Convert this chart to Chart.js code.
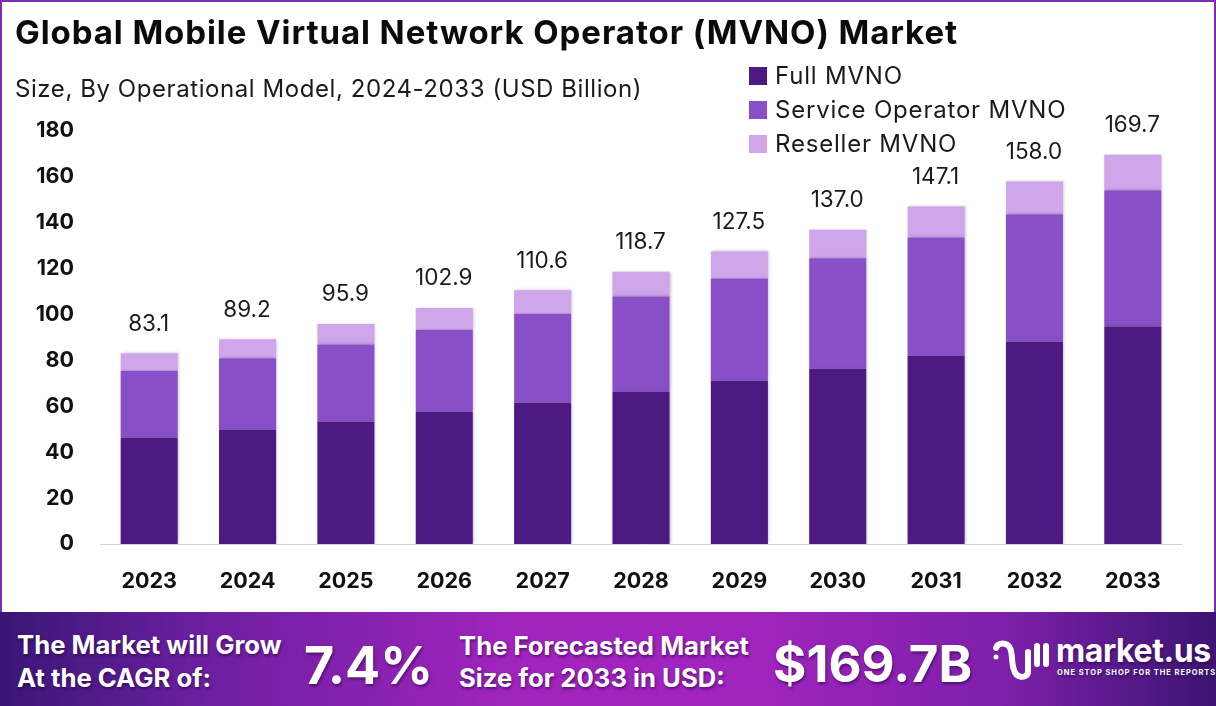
<!DOCTYPE html>
<html>
<head>
<meta charset="utf-8">
<title>Global Mobile Virtual Network Operator (MVNO) Market</title>
<script src="https://cdn.jsdelivr.net/npm/chart.js@4"></script>
<style>
  html, body { margin: 0; padding: 0; background: #fff; }
  #page { position: relative; width: 1216px; height: 706px; overflow: hidden; font-family: Inter, "Noto Sans", sans-serif; color: #0b0b0b; }
  #page canvas { position: absolute; left: 0; top: 0; }
  .edge { position: absolute; background: #7b2cb5; }
  .txt { position: absolute; white-space: nowrap; }
  #title { left: 15px; top: 12px; font-size: 33px; line-height: 40px; font-weight: 700; letter-spacing: 0.92px; }
  #subtitle { left: 15px; top: 73px; font-size: 24px; line-height: 32px; font-weight: 400; letter-spacing: 0.57px; color: #1a1a1a; }
  #legend { position: absolute; left: 749px; top: 59px; }
  .leg-row { position: absolute; left: 0; height: 34px; white-space: nowrap; font-size: 24px; line-height: 34px; letter-spacing: 0.8px; color: #1a1a1a; }
  .leg-box { position: absolute; left: 0; top: 8px; width: 18px; height: 18px; }
  .leg-row span { position: absolute; left: 26px; top: 0; }
  #banner { position: absolute; left: 0; top: 612px; width: 1216px; height: 94px; color: #fff;
    background: linear-gradient(90deg, #3a1675 0%, #6a1f9f 16%, #a024bd 42%, #a024bd 62%, #7f20ab 82%, #3c1473 100%); }
  #banner .txt { text-shadow: 1px 2px 3px rgba(30,0,60,.55); font-weight: 700; }
  .small { font-size: 25.7px; line-height: 33px; letter-spacing: 0; }
  .big { font-size: 52px; line-height: 56px; }
</style>
</head>
<body>
<div id="page">
  <canvas id="chart" width="1216" height="706"></canvas>
  <div class="edge" style="left:0;top:0;width:1216px;height:2px"></div>
  <div class="edge" style="left:0;top:0;width:2px;height:612px"></div>
  <div class="edge" style="right:0;top:0;width:2px;height:612px"></div>

  <div class="txt" id="title">Global Mobile Virtual Network Operator (MVNO) Market</div>
  <div class="txt" id="subtitle">Size, By Operational Model, 2024-2033 (USD Billion)</div>
  <div id="legend"></div>

  <div id="banner">
    <div class="txt small" style="left:17px;top:16px">The Market will Grow</div>
    <div class="txt small" style="left:17px;top:49px">At the CAGR of:</div>
    <div class="txt big" style="left:304px;top:26px">7.4%</div>
    <div class="txt small" style="left:459px;top:17px">The Forecasted Market</div>
    <div class="txt small" style="left:459px;top:49px">Size for 2033 in USD:</div>
    <div class="txt big" style="left:773px;top:24px;font-size:51px">$169.7B</div>
    <svg style="position:absolute;left:992px;top:28px" width="60" height="44" viewBox="0 0 60 44" fill="none" stroke="#fff" stroke-width="6" stroke-linecap="round">
      <circle cx="4" cy="17" r="2.5" fill="#fff" stroke="none"/>
      <path d="M4 8 C6 2 15 2 18 8 C21 14 19 22 22 30 C24 38 34 39 36 33 L36 12"/>
      <path d="M45 6 L45 24"/>
      <path d="M54 6 L54 24"/>
    </svg>
    <div class="txt" style="left:1056px;top:21px;font-size:32px;line-height:36px;font-weight:700;letter-spacing:-.4px">market.us</div>
    <div class="txt" style="left:1057px;top:56px;font-size:7.5px;line-height:10px;font-weight:700;letter-spacing:.95px">ONE STOP SHOP FOR THE REPORTS</div>
  </div>
</div>

<script>
const years = ['2023', '2024', '2025', '2026', '2027', '2028', '2029', '2030', '2031', '2032', '2033'];
const fullMvno = [46.3, 49.8, 53.3, 57.6, 61.6, 66.4, 71.2, 76.4, 82.1, 88.2, 94.8];
const serviceOperatorMvno = [29.2, 31.2, 33.7, 35.8, 38.8, 41.5, 44.5, 48.1, 51.5, 55.5, 59.4];
const resellerMvno = [7.6, 8.2, 8.9, 9.5, 10.2, 10.8, 11.8, 12.5, 13.5, 14.3, 15.5];
const totals = ['83.1', '89.2', '95.9', '102.9', '110.6', '118.7', '127.5', '137.0', '147.1', '158.0', '169.7'];
const yTicks = [0, 20, 40, 60, 80, 100, 120, 140, 160, 180];

const DARK = '#4c1a80';
const MID = '#894fc8';
const LIGHT = '#cfa6e9';
const TICK_FONT = { family: 'Inter, "Noto Sans", sans-serif', size: 21.5, weight: '700' };

// bar shadow, very faint
const barShadow = {
    id: 'barShadow',
    beforeDatasetsDraw(chart) {
        const ctx = chart.ctx;
        ctx.save();
        ctx.shadowColor = 'rgba(60, 30, 90, 0.3)';
        ctx.shadowBlur = 3;
        ctx.shadowOffsetX = 1;
    },
    afterDatasetsDraw(chart) {
        chart.ctx.restore();
    }
};

// total on top of each stack
const totalLabels = {
    id: 'totalLabels',
    afterDatasetsDraw(chart) {
        const ctx = chart.ctx;
        const top = chart.getDatasetMeta(2).data;
        ctx.save();
        ctx.font = '400 22.5px Inter, "Noto Sans", sans-serif';
        ctx.fillStyle = '#1a1a1a';
        ctx.textAlign = 'center';
        ctx.textBaseline = 'bottom';
        totals.forEach((label, i) => {
            ctx.fillText(label, top[i].x - 0.5, top[i].y - 18);
        });
        ctx.restore();
    }
};

const chart = new Chart(document.getElementById('chart').getContext('2d'), {
    type: 'bar',
    data: {
        labels: years,
        datasets: [
            { label: 'Full MVNO', data: fullMvno, backgroundColor: DARK },
            { label: 'Service Operator MVNO', data: serviceOperatorMvno, backgroundColor: MID },
            { label: 'Reseller MVNO', data: resellerMvno, backgroundColor: LIGHT }
        ]
    },
    options: {
        responsive: false,
        animation: false,
        devicePixelRatio: 1,
        layout: { padding: { left: 0, right: 34, top: 131, bottom: 0 } },
        datasets: { bar: { categoryPercentage: 1, barPercentage: 0.58 } },
        plugins: { legend: { display: false }, title: { display: false }, tooltip: { enabled: false } },
        scales: {
            x: {
                stacked: true,
                afterFit(scale) { scale.height = 162; },
                grid: { display: false, drawTicks: false },
                border: { color: '#d4d4d4', width: 1 },
                ticks: { color: '#111', font: TICK_FONT, padding: 25, maxRotation: 0 }
            },
            y: {
                stacked: true,
                min: 0,
                max: 180,
                afterFit(scale) { scale.width = 100; },
                afterBuildTicks(scale) { scale.ticks = yTicks.map(v => ({ value: v })); },
                grid: { display: false, drawTicks: false },
                border: { display: false },
                ticks: { color: '#111', font: TICK_FONT, padding: 26 }
            }
        }
    },
    plugins: [barShadow, totalLabels]
});

// legend built from the chart's datasets
const legendBox = document.getElementById('legend');
chart.data.datasets.forEach((ds, i) => {
    const row = document.createElement('div');
    row.className = 'leg-row';
    row.style.top = (i * 34) + 'px';
    row.innerHTML = `<div class="leg-box" style="background:${ds.backgroundColor}"></div><span>${ds.label}</span>`;
    legendBox.appendChild(row);
});
</script>
</body>
</html>
